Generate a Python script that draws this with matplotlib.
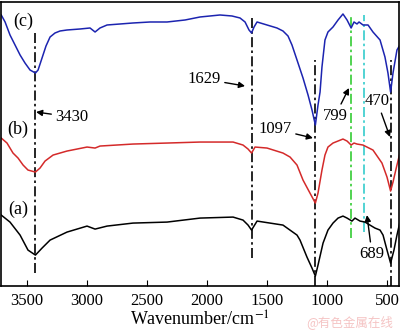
import matplotlib.pyplot as plt

plt.rcParams['font.family'] = ['Liberation Serif', 'DejaVu Serif']
plt.rcParams['mathtext.fontset'] = 'stix'

# FTIR spectra: wavenumber (cm^-1) and transmittance (a.u.)
wn_c = [3715, 3683, 3642, 3600, 3558, 3517, 3475, 3430, 3408, 3375, 3342, 3308,
        3267, 3225, 3167, 3058, 2975, 2933, 2892, 2833, 2725, 2617, 2475, 2333,
        2183, 2058, 1892, 1792, 1725, 1683, 1650, 1629, 1608, 1583, 1500, 1417,
        1367, 1325, 1292, 1250, 1200, 1158, 1125, 1097, 1075, 1058, 1042, 1017,
        992, 950, 908, 867, 833, 799, 775, 750, 733, 700, 658, 617, 558, 517,
        492, 470, 450, 417, 392]
tr_c = [315, 308, 295, 285, 275, 267, 260, 257, 260, 272, 284, 293,
        297, 299, 300, 301, 302, 298, 302, 305, 306, 307, 308, 308,
        310, 313, 315, 314, 312, 308, 300, 297, 303, 308, 305, 302,
        299, 294, 285, 270, 252, 235, 220, 205, 225, 238, 263, 290,
        298, 303, 310, 316, 310, 302, 308, 306, 308, 305, 305, 298, 290, 273,
        257, 238, 257, 280, 285]

wn_b = [3715, 3667, 3617, 3575, 3533, 3492, 3430, 3392, 3350, 3283, 3167, 3000,
        2933, 2892, 2617, 2333, 2058, 1783, 1700, 1658, 1629, 1600, 1500, 1367,
        1308, 1250, 1200, 1142, 1097, 1075, 1042, 1017, 992, 950, 867, 833, 799,
        775, 750, 700, 667, 617, 542, 500, 470, 450, 417, 392]
tr_b = [192, 187, 177, 172, 165, 160, 158, 162, 169, 175, 179, 183,
        182, 184, 186, 187, 188, 188, 185, 181, 177, 183, 182, 177,
        173, 165, 150, 137, 127, 137, 160, 175, 183, 187, 191, 189, 185,
        187, 186, 185, 183, 180, 167, 153, 139, 148, 165, 177]

wn_a = [3715, 3642, 3558, 3492, 3430, 3375, 3308, 3167, 3000, 2933, 2833, 2617,
        2333, 2058, 1783, 1700, 1658, 1629, 1583, 1367, 1250, 1225, 1167, 1125,
        1097, 1075, 1033, 992, 950, 908, 867, 833, 792, 767, 725, 683, 642, 600,
        558, 533, 500, 470, 442, 417, 392]
tr_a = [115, 108, 95, 80, 75, 82, 90, 98, 104, 101, 104, 107,
        108, 112, 113, 110, 105, 100, 109, 105, 95, 90, 73, 62,
        54, 65, 87, 100, 107, 112, 114, 112, 109, 112, 109, 108, 105, 102,
        100, 95, 80, 67, 80, 95, 108]

# marker lines: position, top, bottom, colour
peaks = [3430, 1629, 1097, 470, 799, 689]
peak_top = [298, 315, 270, 270, 313, 315]
peak_bottom = [57, 72, 44, 44, 92, 98]
peak_colors = ['k', 'k', 'k', 'k', '#33cc33', '#33cccc']

# peak labels: text position and arrow tip
labels = ['3430', '1629', '1097', '799', '470', '689']
label_xy = [(3125, 213), (2025, 251), (1433, 201), (933, 214), (583, 229), (625, 76)]
tip_xy = [(3425, 218), (1683, 244), (1117, 192), (817, 242), (475, 193), (667, 115)]

fig = plt.figure(figsize=(4, 3.3), dpi=100)
ax = fig.add_axes([0.0025, 0.133, 0.995, 0.861])

for w, t, b, c in zip(peaks, peak_top, peak_bottom, peak_colors):
    ax.plot([w, w], [b, t], color=c, lw=1.2, ls='-.', dashes=(6, 2, 1.5, 2))

ax.plot(wn_a, tr_a, color='k', lw=1.1)
ax.plot(wn_b, tr_b, color='#d42a2a', lw=1.1)
ax.plot(wn_c, tr_c, color='#1c24b0', lw=1.1)

for s, xy, tip in zip(labels, label_xy, tip_xy):
    ax.annotate(s, xy=tip, xytext=xy, ha='center', va='center', fontsize=12,
                arrowprops=dict(arrowstyle='-|>', color='k', lw=1,
                                mutation_scale=9, shrinkA=1, shrinkB=0))

ax.text(3535, 309, '(c)', fontsize=13, ha='center', va='center')
ax.text(3575, 201, '(b)', fontsize=13, ha='center', va='center')
ax.text(3575, 121, '(a)', fontsize=13, ha='center', va='center')

ax.set_xlim(3717, 400)
ax.set_ylim(44, 328)
ax.set_xticks([3500, 3000, 2500, 2000, 1500, 1000, 500])
ax.set_yticks([])
ax.tick_params(axis='x', direction='in', length=4, labelsize=12, pad=5)
ax.set_xlabel('Wavenumber/cm$^{-1}$', fontsize=13, labelpad=1)
for sp in ax.spines.values():
    sp.set_linewidth(1.2)

fig.text(0.875, 0.024, '@有色金属在线', fontsize=9, color='#f5c4c4',
         ha='center', va='center', family=['Noto Sans CJK SC', 'DejaVu Sans'])

fig.savefig('out.png', dpi=100)
